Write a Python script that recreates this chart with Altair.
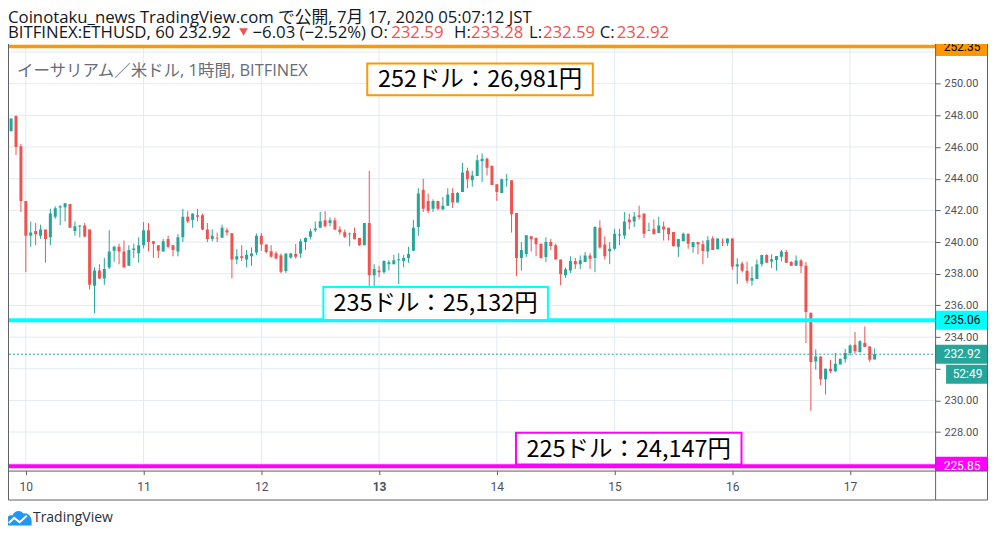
import altair as alt
import pandas as pd

# ------------------------------------------------------------------ data
# hourly ETH/USD candles, hour 0 = Jul 10 00:00
HOURS = list(range(-3, 174))
OPEN = [
    247.0, 247.96, 246.05,
    242.6, 240.4, 240.7, 240.4, 240.8, 240.3, 241.6, 242.18, 242.2, 242.4, 240.7, 240.99,
    241.05, 240.8, 237.25, 238.2, 237.7, 238.4, 239.45, 239.7, 239.4, 238.5, 239.5, 239.3,
    239.8, 240.75, 240.06, 239.8, 239.4, 240.2, 239.8, 239.4, 240.3, 241.6, 241.4, 241.7,
    241.7, 240.8, 240.2, 240.27, 240.27, 240.75, 240.56, 238.9, 239.1, 238.9, 239.1, 239.34,
    240.4, 239.84, 239.42, 239.3, 239.17, 238.18, 239.02, 239.24, 239.28, 240.0, 240.33, 240.75,
    240.9, 241.38, 241.21, 241.38, 240.79, 240.62, 240.5, 240.58, 240.26, 239.8, 241.21, 237.9,
    238.2, 238.1, 238.6, 238.6, 238.86, 238.8, 239.0, 239.45, 240.96, 243.3, 242.6, 242.1,
    242.6, 242.07, 242.3, 243.1, 242.5, 243.16, 244.5, 243.9, 244.17, 245.1, 245.26, 244.8,
    243.65, 243.1, 243.9, 243.9, 241.84, 239.0, 239.24, 240.37, 240.26, 239.9, 239.06, 240.0,
    239.8, 238.9, 237.9, 238.2, 238.8, 238.6, 238.74, 239.16, 239.0, 240.9, 239.84, 239.42,
    239.58, 240.42, 240.42, 241.43, 241.3, 241.7, 241.8, 240.72, 240.84, 240.57, 240.99, 240.9,
    240.63, 239.7, 240.05, 240.53, 239.69, 240.0, 239.86, 239.4, 240.23, 239.54, 240.02, 239.92,
    240.23, 238.46, 238.65, 238.19, 237.56, 237.67, 238.6, 239.19, 238.77, 238.87, 239.08, 239.37,
    238.75, 238.5, 238.84, 238.5, 235.54, 232.46, 232.78, 231.33, 232.0, 231.85, 232.27, 232.6,
    233.0, 233.52, 233.05, 233.64, 233.41, 232.59,
]
HIGH = [
    247.8, 248.0, 246.2,
    242.6, 241.3, 241.2, 241.1, 240.8, 242.1, 242.26, 242.33, 242.45, 242.4, 241.3, 241.05,
    241.2, 240.8, 238.4, 238.6, 239.0, 240.75, 239.76, 239.9, 240.1, 239.8, 239.9, 240.3,
    241.26, 241.2, 240.06, 239.8, 240.2, 240.4, 239.8, 240.5, 242.1, 241.95, 241.8, 242.1,
    241.8, 241.2, 240.8, 240.6, 241.1, 240.9, 240.56, 239.55, 239.8, 239.5, 239.66, 240.54,
    240.58, 239.84, 239.8, 239.42, 239.28, 239.28, 239.32, 239.87, 240.2, 240.3, 240.85, 241.3,
    241.9, 241.95, 241.55, 241.55, 241.0, 240.79, 240.6, 240.92, 240.26, 241.21, 244.5, 238.6,
    238.5, 238.85, 238.85, 239.2, 239.3, 239.2, 239.7, 241.4, 243.4, 244.0, 243.06, 242.7,
    242.6, 242.85, 243.4, 243.4, 243.16, 245.0, 244.7, 244.5, 245.5, 245.6, 245.33, 244.85,
    243.65, 244.0, 244.3, 243.9, 241.84, 240.0, 240.43, 240.37, 240.3, 239.9, 240.3, 240.2,
    239.9, 238.9, 238.39, 239.1, 239.0, 239.16, 239.37, 239.3, 241.0, 241.37, 240.36, 240.0,
    240.84, 240.84, 241.9, 241.8, 241.9, 242.3, 241.8, 241.22, 241.43, 241.6, 241.3, 240.9,
    240.63, 240.2, 240.6, 240.53, 240.0, 240.0, 240.1, 240.37, 240.37, 240.23, 240.23, 240.23,
    240.23, 238.98, 238.77, 238.77, 238.46, 238.9, 239.19, 239.23, 239.23, 239.12, 239.5, 239.5,
    238.8, 239.16, 238.92, 238.74, 235.54, 233.22, 232.78, 232.0, 232.57, 233.0, 232.63, 233.26,
    233.54, 234.32, 233.8, 234.67, 233.41, 233.28,
]
LOW = [
    247.0, 245.5, 241.9,
    238.1, 239.7, 239.8, 240.2, 238.7, 239.8, 241.47, 241.07, 241.3, 240.9, 240.4, 240.3,
    240.3, 237.0, 235.5, 237.66, 237.3, 238.3, 238.75, 238.6, 238.4, 238.5, 239.0, 238.7,
    239.6, 239.4, 239.0, 239.0, 239.4, 239.6, 239.1, 239.1, 240.0, 241.2, 240.9, 241.3,
    240.75, 240.0, 240.05, 240.0, 240.27, 240.4, 237.7, 238.6, 238.8, 238.4, 238.5, 239.17,
    239.45, 239.28, 239.02, 238.92, 238.02, 238.06, 238.96, 238.96, 239.0, 239.5, 240.18, 240.64,
    240.9, 240.92, 241.0, 240.75, 240.47, 240.26, 239.74, 240.18, 239.76, 239.8, 237.2, 237.2,
    237.8, 238.0, 238.2, 238.6, 237.35, 238.4, 238.7, 239.45, 240.4, 241.9, 241.84, 241.9,
    242.0, 242.0, 242.3, 242.15, 242.5, 243.16, 243.4, 243.5, 244.17, 243.8, 244.2, 243.6,
    242.6, 243.1, 243.5, 240.6, 237.85, 238.2, 239.07, 239.4, 239.1, 238.95, 238.74, 239.5,
    238.9, 237.27, 237.74, 238.05, 238.3, 238.3, 238.74, 238.3, 238.1, 239.58, 238.9, 238.6,
    239.48, 239.8, 240.2, 240.8, 240.95, 241.43, 240.26, 240.72, 240.49, 240.57, 240.1, 240.1,
    239.73, 239.06, 240.05, 239.58, 239.33, 239.23, 238.6, 239.0, 239.5, 239.54, 239.75, 239.75,
    238.25, 237.36, 238.08, 237.4, 237.25, 237.67, 238.46, 238.7, 238.35, 238.2, 238.77, 238.7,
    238.5, 238.5, 238.04, 233.62, 229.33, 231.94, 230.95, 230.38, 231.73, 231.8, 232.27, 232.38,
    232.84, 232.95, 233.05, 233.37, 232.42, 232.59,
]
CLOSE = [
    247.8, 246.0, 242.6,
    240.4, 240.6, 240.5, 240.8, 240.2, 241.8, 242.14, 242.26, 242.45, 240.9, 241.0, 241.05,
    240.35, 237.3, 238.2, 237.7, 238.3, 239.4, 239.7, 239.4, 238.4, 239.5, 239.6, 239.8,
    240.75, 240.0, 239.9, 239.45, 240.06, 239.7, 239.5, 240.3, 241.6, 241.3, 241.8, 241.6,
    240.8, 240.2, 240.4, 240.23, 240.9, 240.6, 238.9, 239.1, 239.0, 239.2, 239.28, 240.4,
    239.85, 239.38, 239.07, 238.96, 238.12, 239.28, 239.28, 239.07, 240.05, 240.26, 240.68, 240.85,
    241.32, 241.0, 241.38, 240.79, 240.62, 240.33, 240.54, 240.18, 239.8, 241.21, 237.9, 238.3,
    238.1, 238.8, 238.73, 238.86, 238.92, 239.0, 239.24, 240.9, 243.06, 242.1, 241.97, 242.6,
    242.1, 242.3, 243.0, 242.5, 243.1, 244.4, 243.96, 244.2, 245.16, 245.26, 244.7, 243.6,
    243.16, 243.96, 243.95, 241.76, 239.0, 239.5, 240.43, 240.18, 239.86, 239.0, 240.0, 239.75,
    238.9, 237.97, 238.28, 238.8, 238.6, 238.85, 239.16, 238.95, 240.95, 239.65, 239.1, 239.58,
    240.53, 240.48, 241.3, 241.26, 241.62, 241.58, 240.53, 240.76, 240.49, 241.05, 240.8, 240.49,
    239.73, 240.2, 240.53, 239.9, 240.0, 239.86, 239.44, 240.12, 239.5, 240.23, 239.98, 240.23,
    238.46, 238.6, 238.19, 237.56, 237.73, 238.6, 239.19, 238.7, 238.92, 239.12, 239.4, 238.7,
    238.5, 238.84, 238.48, 235.58, 232.42, 232.78, 231.33, 232.0, 231.85, 232.32, 232.63, 233.0,
    233.47, 233.1, 233.73, 233.37, 232.57, 232.92,
]
assert len(OPEN) == len(HIGH) == len(LOW) == len(CLOSE) == len(HOURS)

DAY_TICKS = [0, 24, 48, 72, 96, 120, 144, 168]
DAY_LABELS = ["10", "11", "12", "13", "14", "15", "16", "17"]
BOLD_DAY = 72
Y_TICKS = [228, 230, 232, 234, 236, 238, 240, 242, 244, 246, 248, 250]
HIDDEN_Y_LABEL = 232          # tick label hidden behind the last-price tag
GRID_Y = [226, 228, 230, 232, 234, 236, 238, 240, 242, 244, 246, 248, 250, 252]

LEVELS = [252.35, 235.06, 225.85]
LEVEL_LABELS = ["252.35", "235.06", "225.85"]
LAST_PRICE = 232.92
LAST_LABEL = "232.92"
COUNTDOWN = "52:49"

NOTES = ["252ドル：26,981円", "235ドル：25,132円", "225ドル：24,147円"]

HEADER1 = "Coinotaku_news TradingView.com で公開, 7月 17, 2020 05:07:12 JST"
HEADER2 = ["BITFINEX:ETHUSD, 60 232.92", "−6.03 (−2.52%) O:", "232.59", "H:",
           "233.28", "L:", "232.59", "C:", "232.92"]
HEADER2_RED = [False, False, True, False, True, False, True, False, True]
SYMBOL_TITLE = "イーサリアム／米ドル, 1時間, BITFINEX"
BRAND = "TradingView"

# ------------------------------------------------------------------ styles / layout
UI = "'Open Sans', 'Noto Sans CJK JP', sans-serif"
AX = "Roboto, sans-serif"
JP = "'Noto Sans CJK JP', sans-serif"
FRAME = "#5d606b"
GRID = "#e3eaf0"
UP = "#26a69a"
DOWN = "#ef5350"
TXT = "#131722"
AXT = "#4c525e"
LEVEL_COLORS = ["#ff9800", "#00ffff", "#ff00ff"]
LEVEL_WIDTHS = [3.5, 4, 4]
TAG_TEXT_COLORS = ["#000000", "#000000", "#ffffff"]

W, H = 928, 427
XD = [-2.414, 184.31]
YD = [225.57, 252.48]
PX_PER_USD = H / (YD[1] - YD[0])
TAG_HALF = 9.5 / PX_PER_USD
AXIS_X0, AXIS_X1 = 928, 980

xs = alt.Scale(domain=XD, nice=False, zero=False)
ys = alt.Scale(domain=YD, nice=False, zero=False)

x_label_expr = "[" + ",".join("'%s'" % s for s in DAY_LABELS) + "][round(datum.value / 24)]"
y_label_expr = "datum.value == %d ? '' : format(datum.value, '.2f')" % HIDDEN_Y_LABEL
x_axis = alt.Axis(values=DAY_TICKS, labelExpr=x_label_expr, grid=False, domain=False,
                  tickSize=4, tickColor=FRAME, labelColor=AXT, labelFont=AX, labelFontSize=12,
                  labelPadding=7, labelFlush=False, title=None,
                  labelFontWeight={"condition": {"test": "datum.value == %d" % BOLD_DAY, "value": "bold"},
                                   "value": "normal"})
y_axis = alt.Axis(orient="right", values=Y_TICKS, labelExpr=y_label_expr, grid=False, domain=False,
                  tickSize=5, tickColor=FRAME, labelColor=AXT, labelFont=AX, labelFontSize=11,
                  labelPadding=4, labelFlush=False, title=None)


def X(field):
    return alt.X(field, scale=xs, axis=x_axis)


def Y(field):
    return alt.Y(field, scale=ys, axis=y_axis)


one = pd.DataFrame({"k": [0]})

candles = pd.DataFrame({"h": HOURS, "o": OPEN, "hi": HIGH, "lo": LOW, "c": CLOSE})
candles["dir"] = ["up" if c >= o else "down" for o, c in zip(OPEN, CLOSE)]
col = alt.Color("dir:N", scale=alt.Scale(domain=["up", "down"], range=[UP, DOWN]), legend=None)

layers = []

# grid
layers.append(alt.Chart(pd.DataFrame({"p": GRID_Y})).mark_rule(color=GRID, strokeWidth=1).encode(
    y=Y("p:Q"), x=alt.value(0), x2=alt.value(W)))
layers.append(alt.Chart(pd.DataFrame({"t": DAY_TICKS})).mark_rule(color=GRID, strokeWidth=1).encode(
    x=X("t:Q"), y=alt.value(0), y2=alt.value(H)))

# candles
base = alt.Chart(candles)
layers.append(base.mark_rule(strokeWidth=1, clip=True).encode(
    x=X("h:Q"), y=Y("lo:Q"), y2="hi:Q", color=col))
layers.append(base.mark_bar(size=3, clip=True).encode(
    x=X("h:Q"), y=Y("o:Q"), y2="c:Q", color=col))

# price levels
for p, c, w in zip(LEVELS, LEVEL_COLORS, LEVEL_WIDTHS):
    layers.append(alt.Chart(pd.DataFrame({"p": [p]})).mark_rule(color=c, strokeWidth=w).encode(
        y=Y("p:Q"), x=alt.value(0), x2=alt.value(AXIS_X1)))

# last price dotted line
layers.append(alt.Chart(pd.DataFrame({"p": [LAST_PRICE]})).mark_rule(
    color=UP, strokeWidth=1, strokeDash=[2, 2]).encode(
    y=Y("p:Q"), x=alt.value(0), x2=alt.value(W)))

# note boxes
NOTE_BOXES = [(359, 585, 19, 51), (315, 540, 243, 276), (508, 734, 389, 421)]
for txt, c, (x0, x1, y0, y1) in zip(NOTES, LEVEL_COLORS, NOTE_BOXES):
    layers.append(alt.Chart(one).mark_rect(fill="white", stroke=c, strokeWidth=2).encode(
        x=alt.value(x0), x2=alt.value(x1), y=alt.value(y0), y2=alt.value(y1)))
    layers.append(alt.Chart(one).mark_text(font=JP, fontSize=23.5, color="#000000",
                                           align="center", baseline="middle").encode(
        x=alt.value((x0 + x1) / 2), y=alt.value((y0 + y1) / 2 + 1), text=alt.value(txt)))


# right-axis tags
def tag(price, label, fill, tcolor, x0=AXIS_X0, x1=AXIS_X1):
    d = pd.DataFrame({"p": [price], "lo": [price - TAG_HALF], "hi": [price + TAG_HALF]})
    r = alt.Chart(d).mark_rect(fill=fill).encode(
        x=alt.value(x0), x2=alt.value(x1), y=Y("lo:Q"), y2="hi:Q")
    t = alt.Chart(d).mark_text(font=AX, fontSize=12, color=tcolor, align="center",
                               baseline="middle").encode(
        x=alt.value((x0 + x1) / 2 + 1), y=Y("p:Q"), text=alt.value(label))
    return [r, t]


for p, lab, c, tc in zip(LEVELS, LEVEL_LABELS, LEVEL_COLORS, TAG_TEXT_COLORS):
    layers += tag(p, lab, c, tc)
layers += tag(LAST_PRICE, LAST_LABEL, UP, "#ffffff")
layers += tag(LAST_PRICE - 20 / PX_PER_USD, COUNTDOWN, UP, "#ffffff", x0=939)

# white covers clipping tags at the frame edges
layers.append(alt.Chart(one).mark_rect(fill="white").encode(
    x=alt.value(AXIS_X0), x2=alt.value(AXIS_X1 + 1), y=alt.value(-10), y2=alt.value(-0.5)))
layers.append(alt.Chart(one).mark_rect(fill="white").encode(
    x=alt.value(AXIS_X0), x2=alt.value(AXIS_X1), y=alt.value(427.5), y2=alt.value(445)))

# frame
FRAME_LINES = [(-0.5, -0.5, -0.5, 456.5), (980.5, 980.5, -0.5, 456.5), (-0.5, 980.5, 456.5, 456.5),
               (-0.5, 980.5, 427.5, 427.5), (928.5, 928.5, -0.5, 456.5)]
for x0, x1, y0, y1 in FRAME_LINES:
    layers.append(alt.Chart(one).mark_rule(color=FRAME, strokeWidth=1).encode(
        x=alt.value(x0), x2=alt.value(x1), y=alt.value(y0), y2=alt.value(y1)))

# header texts
layers.append(alt.Chart(one).mark_text(font=UI, fontSize=16.8, color=TXT, align="left",
                                       baseline="alphabetic").encode(
    x=alt.value(-1), y=alt.value(-22), text=alt.value(HEADER1)))
HEADER2_X = [-1, 244, 383, 446, 463, 521, 535, 592, 609]
for s, red, hx in zip(HEADER2, HEADER2_RED, HEADER2_X):
    layers.append(alt.Chart(one).mark_text(font=UI, fontSize=16.8, color=DOWN if red else TXT,
                                           align="left", baseline="alphabetic").encode(
        x=alt.value(hx), y=alt.value(-6.3), text=alt.value(s)))
layers.append(alt.Chart(one).mark_point(shape="triangle-down", filled=True, color=DOWN,
                                        size=75, opacity=1).encode(
    x=alt.value(235), y=alt.value(-12.5)))

layers.append(alt.Chart(one).mark_text(font=UI, fontSize=16.5, color="#6a6d78", align="left",
                                       baseline="alphabetic").encode(
    x=alt.value(8), y=alt.value(32), text=alt.value(SYMBOL_TITLE)))

# brand
CLOUD = ("M-1,0.55 L-1,0.15 C-1,-0.15 -0.75,-0.3 -0.5,-0.25 C-0.4,-0.6 0.1,-0.75 0.35,-0.4 "
         "C0.7,-0.45 1,-0.15 1,0.2 L1,0.55 Z")
ZIG = "M-0.8,0.35 L-0.38,-0.05 L0.05,0.3 L0.62,-0.22"
layers.append(alt.Chart(one).mark_point(shape=CLOUD, filled=True, color="#2196f3", size=640,
                                        opacity=1).encode(x=alt.value(10), y=alt.value(475)))
layers.append(alt.Chart(one).mark_point(shape=ZIG, filled=False, color="white", size=640,
                                        strokeWidth=2, opacity=1).encode(x=alt.value(10), y=alt.value(475)))
layers.append(alt.Chart(one).mark_text(font=UI, fontSize=14, color="#2a2e39", align="left",
                                       baseline="alphabetic").encode(
    x=alt.value(24), y=alt.value(479), text=alt.value(BRAND)))

chart = alt.layer(*layers).properties(
    width=W, height=H,
    padding={"left": 1, "top": 36, "right": 53, "bottom": 56},
    autosize=alt.AutoSizeParams(type="none"),
).configure(background="white").configure_view(stroke="transparent")

chart.save("out.html", embed_options={"renderer": "svg", "actions": False})
